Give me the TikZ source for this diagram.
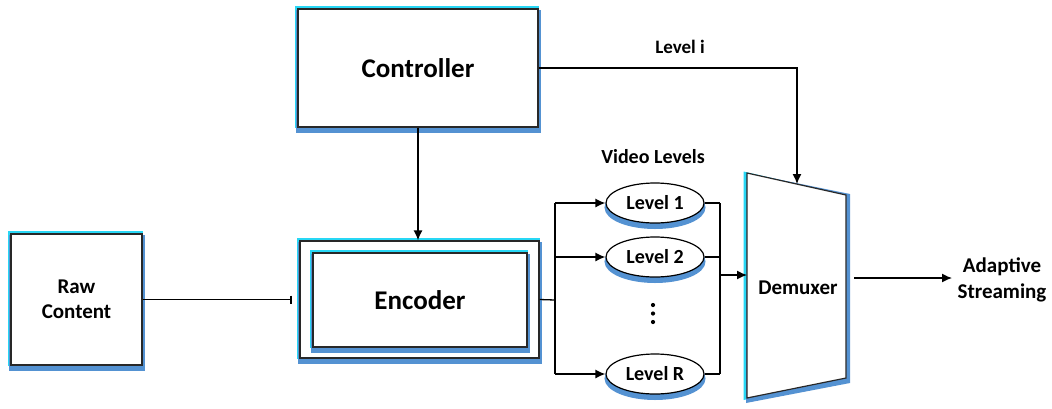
\documentclass[tikz,border=0pt]{standalone}
\usepackage{fontspec}
\setmainfont{Carlito}
\usetikzlibrary{shapes.geometric,arrows.meta,shadows,backgrounds}
\definecolor{sblue}{RGB}{84,146,210}
\definecolor{scyan}{RGB}{40,215,245}
\definecolor{edge}{RGB}{40,40,40}
\begin{document}
\begin{tikzpicture}[x=1pt,y=-1pt,
  bsh/.style={general shadow={draw=scyan,fill=scyan,line width=4pt,shadow xshift=-1pt,shadow yshift=1pt},
              general shadow={draw=sblue,fill=sblue,line width=5pt,shadow xshift=0.8pt,shadow yshift=-3pt}},
  box/.style={draw=edge,line width=1.2pt,fill=white,align=center,inner sep=0pt,bsh},
  lvl/.style={ellipse,draw=black,line width=1.2pt,fill=white,inner sep=0pt,minimum width=98pt,minimum height=40pt,
              font=\fontsize{20}{22}\selectfont\bfseries,
              general shadow={draw=sblue,fill=sblue,line width=3pt,shadow yshift=-4.5pt}},
  lbl/.style={font=\fontsize{20}{23}\selectfont\bfseries,align=center,inner sep=0pt},
  big/.style={font=\fontsize{27}{30}\selectfont\bfseries},
  mid/.style={font=\fontsize{21}{25}\selectfont\bfseries},
  con/.style={draw=black,line width=1.3pt},
  arr/.style={con,-{Latex[length=10pt,width=9pt]}}
]
\useasboundingbox (0,0) rectangle (1052,408);

% boxes
\node[box,big,minimum width=240pt,minimum height=118pt] (ctrl) at (418,68) {Controller};
\node[box,mid,minimum width=131pt,minimum height=131pt] (raw) at (76.5,299.5) {Raw\\Content};
\node[box,minimum width=239pt,minimum height=117pt] (enc) at (419.5,299.5) {};
\node[box,big,minimum width=214pt,minimum height=94pt] (encin) at (420,300) {Encoder};

% levels
\node[lvl] (l1) at (655,203) {Level 1};
\node[lvl] (l2) at (655,257) {Level 2};
\node[lvl] (lr) at (655,374) {Level R};
\node[lbl] (vl) at (653,157) {Video Levels};
\node[lbl,font=\fontsize{19}{22}\selectfont\bfseries] (li) at (680,47) {Level i};
\foreach \yy [count=\i] in {305,313.5,322}
  \fill (653,\yy) circle (2.1pt) coordinate (dot\i);

% demuxer
\coordinate (dTL) at (747,173);
\coordinate (dTR) at (846,195);
\coordinate (dBR) at (846,378);
\coordinate (dBL) at (747,398);
\fill[scyan] (743.5,171.5) -- (dTR) -- (dBR) -- (743.5,400) -- cycle;
\fill[sblue] (dTL) -- (850,194) -- (850,383) -- (746,403) -- cycle;
\draw[draw=edge,line width=1.2pt,fill=white] (dTL) -- (dTR) -- (dBR) -- (dBL) -- cycle;
\node[lbl,font=\fontsize{21}{25}\selectfont\bfseries] (demux) at (798,288) {Demuxer};
\coordinate (dtop) at (797,184);
\coordinate (din) at (747,275);
\coordinate (dout) at (854,278);

\node[lbl,font=\fontsize{21}{26}\selectfont\bfseries] (out) at (1002,280) {Adaptive\\Streaming};
\coordinate (outend) at (952,278);

% connectors
\draw[con,-{Bar[width=8pt,line width=2.5pt]},shorten >=7pt] (raw.east) -- (enc.west);
\draw[arr] (ctrl.south) -- (enc.north -| ctrl.south);
\draw[arr] (ctrl.east) -| (dtop);

\coordinate (sl) at (555,300);
\coordinate (sr) at (720,275);
\draw[con] (enc.east) -- (sl);
\draw[con] (sl |- l1) -- (sl |- lr);
\draw[arr] (sl |- l1) -- (l1.west);
\draw[arr] (sl |- l2) -- (l2.west);
\draw[arr] (sl |- lr) -- (lr.west);
\draw[con] (l1.east) -- (sr |- l1);
\draw[con] (l2.east) -- (sr |- l2);
\draw[con] (lr.east) -- (sr |- lr);
\draw[con] (sr |- l1) -- (sr |- lr);
\draw[arr] (sr) -- (din);
\draw[arr] (dout) -- (outend);
\end{tikzpicture}
\end{document}
